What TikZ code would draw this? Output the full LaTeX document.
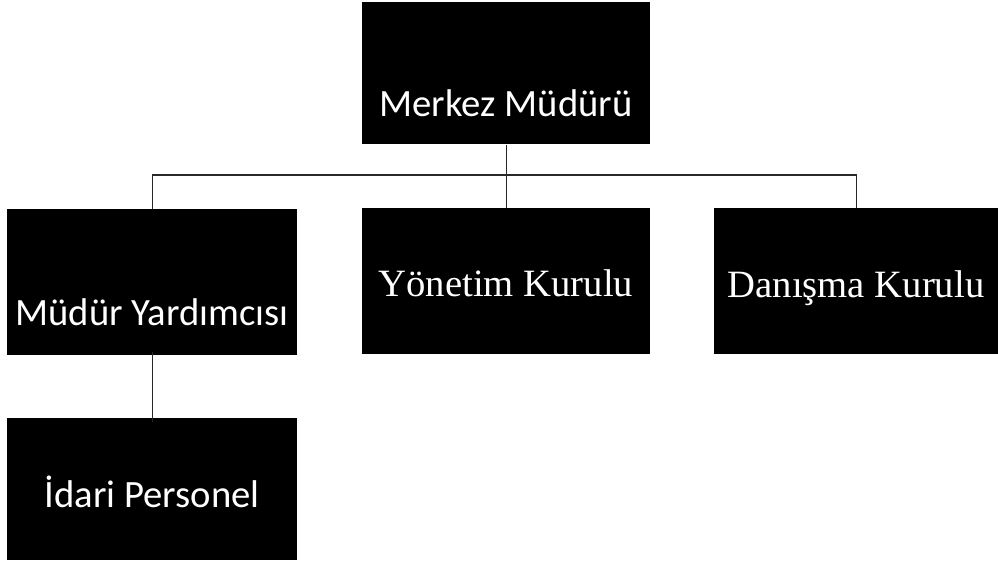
\documentclass[tikz,border=0pt]{standalone}
\usepackage{fontspec}
\newfontfamily\calibrifont{Carlito}
\newfontfamily\romanfont{Liberation Serif}

\begin{document}
\begin{tikzpicture}[x=0.75pt,y=0.75pt,yscale=-1,xscale=1,
  box/.style={anchor=north west,fill=black,draw=none,inner sep=0pt},
  sanslbl/.style={text=white,inner sep=0.75pt,font=\calibrifont\fontsize{29}{34}\selectfont},
  seriflbl/.style={text=white,inner sep=0.75pt,font=\romanfont\fontsize{29}{34}\selectfont},
  link/.style={draw={rgb,255:red,40;green,40;blue,40},line width=1.1pt}]
\path[use as bounding box] (0,0) rectangle (998,562);

%Boxes
\node[box,minimum width=216pt,minimum height=106.5pt] (merkez) at (362,2) {};
\node[box,minimum width=217.5pt,minimum height=109.5pt] (yardimci) at (7,209) {};
\node[box,minimum width=216pt,minimum height=109.5pt] (yonetim) at (362,208) {};
\node[box,minimum width=213pt,minimum height=109.5pt] (danisma) at (714,208) {};
\node[box,minimum width=217.5pt,minimum height=106.5pt] (idari) at (7,418) {};

% Text Nodes
\node[sanslbl] (merkezT) at (506,103) {Merkez Müdürü};
\node[sanslbl] (yardimciT) at (152,312) {Müdür Yardımcısı};
\node[seriflbl] (yonetimT) at (506,283) {Yönetim Kurulu};
\node[seriflbl] (danismaT) at (856,288) {Danışma Kurulu};
\node[sanslbl] (idariT) at (152,492) {İdari Personel};

%Connectors
\coordinate (bus) at (505,175);
\draw[link] (merkez.south) -- (yonetim.north);
\draw[link] (yardimci.north) -- (yardimci.north |- bus) -- (bus -| danisma.north) -- (danisma.north);
\draw[link] ([yshift=-3pt]yardimci.south) -- ([yshift=3pt]idari.north);

\end{tikzpicture}
\end{document}
